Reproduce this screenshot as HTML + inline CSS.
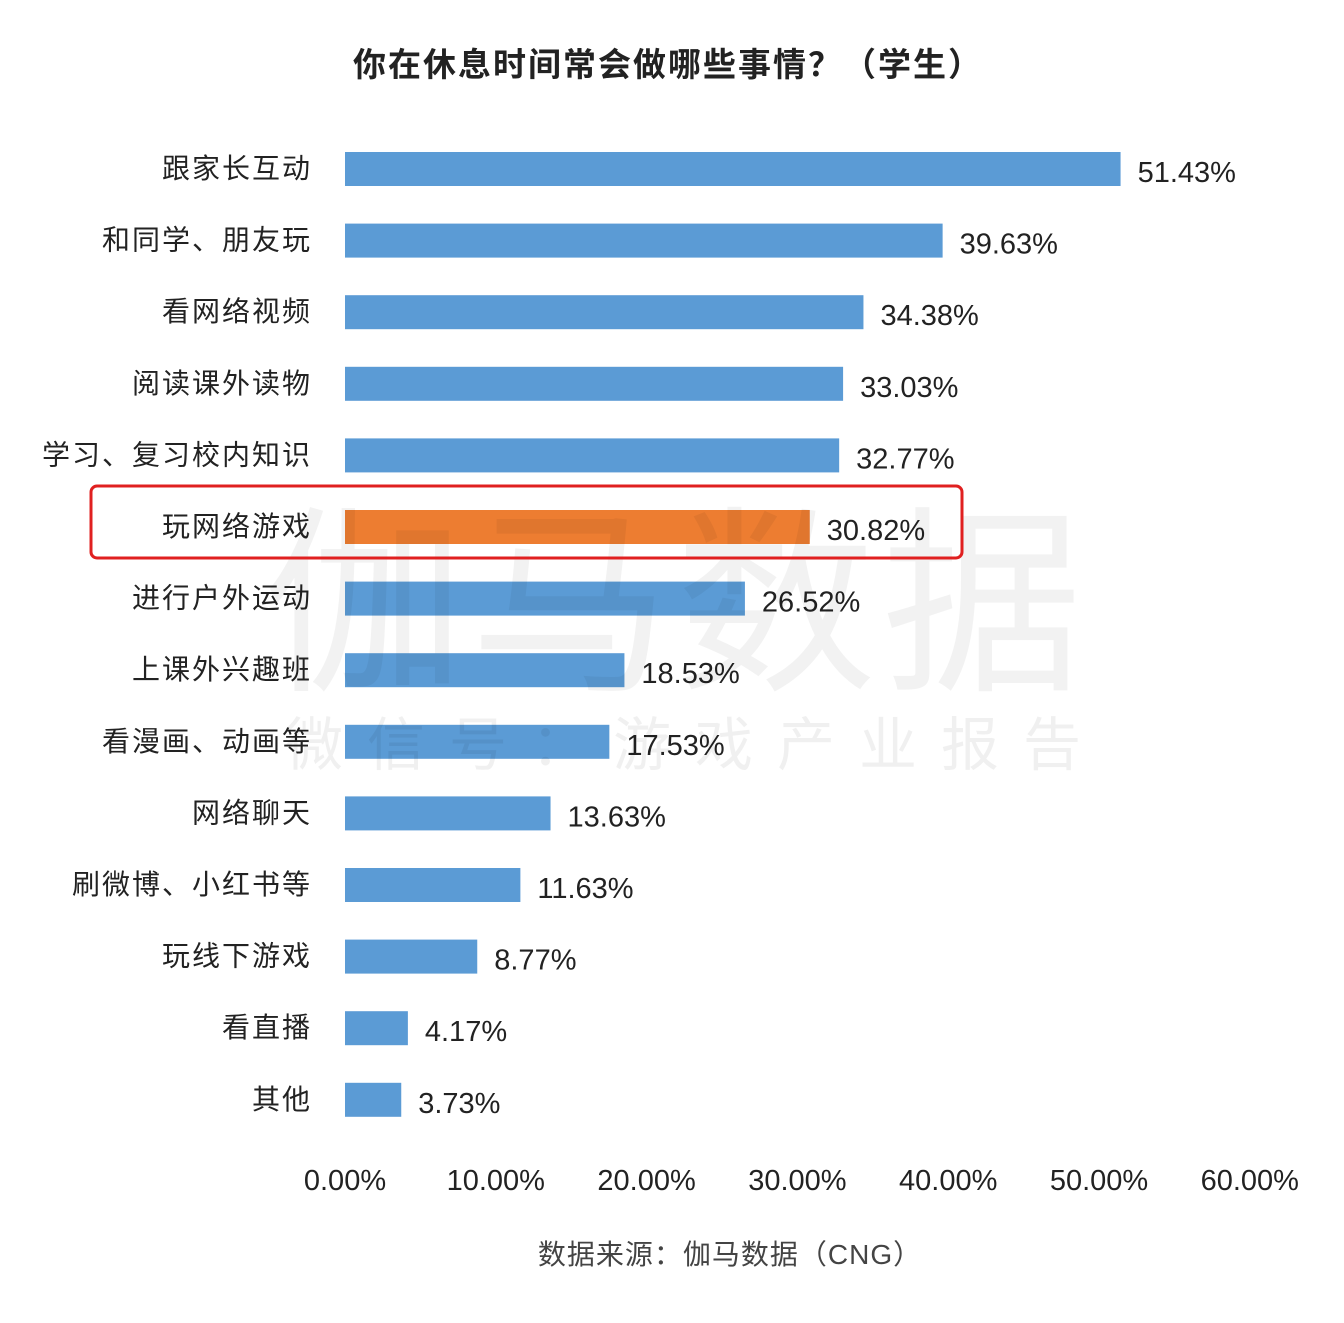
<!DOCTYPE html>
<html><head><meta charset="utf-8"><style>
body{margin:0;background:#fff;}
svg text{font-family:"Liberation Sans","Noto Sans CJK SC",sans-serif;}
</style></head><body>
<svg width="1344" height="1318" viewBox="0 0 1344 1318" xmlns="http://www.w3.org/2000/svg">
<rect width="1344" height="1318" fill="#fff"/>
<text x="668" y="76" text-anchor="middle" font-size="33" font-weight="bold" fill="#222" letter-spacing="2">你在休息时间常会做哪些事情？（学生）</text>
<g id="bars"></g>
<g id="ticks"></g>
<text x="1088" y="675" text-anchor="end" font-size="200" fill="#000" fill-opacity="0.05" letter-spacing="6">伽马数据</text>
<text x="285" y="765" font-size="58" fill="#000" fill-opacity="0.06" letter-spacing="24">微信号：游戏产业报告</text>
<rect x="91" y="486" width="871" height="72" rx="6" fill="none" stroke="#e02020" stroke-width="3"/>
<text x="730" y="1264" text-anchor="middle" font-size="28" fill="#444" letter-spacing="1">数据来源：伽马数据（CNG）</text>
</svg>
<script>
const categories=["跟家长互动","和同学、朋友玩","看网络视频","阅读课外读物","学习、复习校内知识","玩网络游戏","进行户外运动","上课外兴趣班","看漫画、动画等","网络聊天","刷微博、小红书等","玩线下游戏","看直播","其他"];
const values=[51.43,39.63,34.38,33.03,32.77,30.82,26.52,18.53,17.53,13.63,11.63,8.77,4.17,3.73];
const highlightIndex=5;
const tickValues=[0,10,20,30,40,50,60];
const tickLabels=["0.00%","10.00%","20.00%","30.00%","40.00%","50.00%","60.00%"];
const NS="http://www.w3.org/2000/svg";
const x=v=>345+v*15.08;
const y=i=>169+i*71.6;
const bars=document.getElementById('bars'),ticks=document.getElementById('ticks');
function mk(tag,a,p){const e=document.createElementNS(NS,tag);for(const k in a)e.setAttribute(k,a[k]);p.appendChild(e);return e;}
categories.forEach((c,i)=>{
 const r=mk('rect',{x:x(0),y:y(i)-17,width:x(values[i])-x(0),height:34,fill:i===highlightIndex?'#ed7d31':'#5b9bd5'},bars);
 
 
 const l=mk('text',{x:312,y:y(i)+9,'text-anchor':'end','font-size':28,fill:'#222','letter-spacing':2},bars);
 l.textContent=c;
 
 
 const v=mk('text',{x:x(values[i])+17,y:y(i)+13,'font-size':29,fill:'#222'},bars);
 v.textContent=values[i].toFixed(2)+'%';
 
 
});
tickValues.forEach((t,i)=>{
 const e=mk('text',{x:x(t),y:1190,'text-anchor':'middle','font-size':29,fill:'#222'},ticks);
 e.textContent=tickLabels[i];
 
 
});
</script>
</body></html>
